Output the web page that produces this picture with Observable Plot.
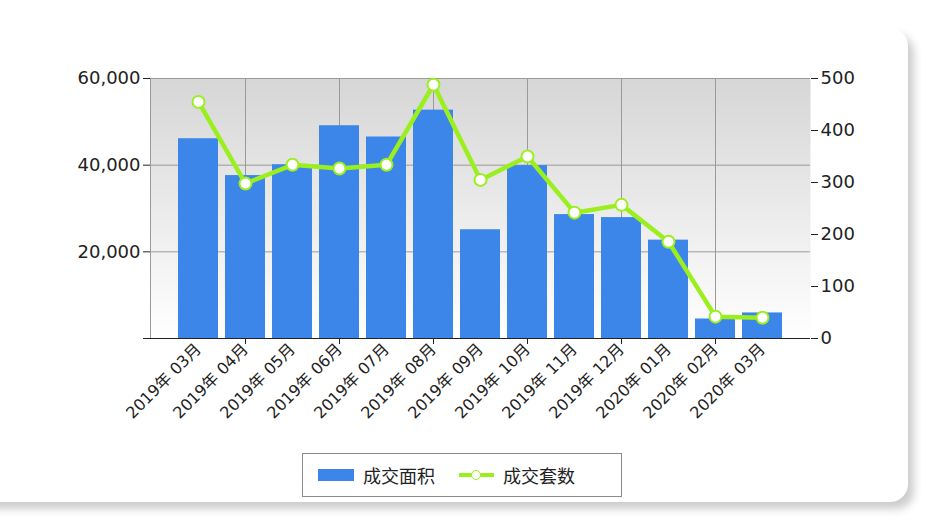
<!DOCTYPE html>
<html><head><meta charset="utf-8">
<script src="https://cdn.jsdelivr.net/npm/d3@7"></script>
<script src="https://cdn.jsdelivr.net/npm/@observablehq/plot@0.6"></script>
<style>
body{margin:0;background:#fff;width:928px;height:525px;overflow:hidden;position:relative;font-family:"DejaVu Sans","Noto Sans CJK SC",sans-serif;}
#card{position:absolute;left:-30px;top:28px;width:938px;height:474px;border-radius:18px;background:#fff;box-shadow:6px 7px 8px rgba(0,0,0,0.2);}
#chart{position:absolute;left:0;top:0;}
#legend{position:absolute;left:302px;top:453px;width:320px;height:44px;border:1px solid #8a8a8a;box-sizing:border-box;background:#fff;display:flex;align-items:center;font-size:18px;color:#222;font-family:"Noto Sans CJK SC",sans-serif;}
.sw{display:inline-block;width:36px;height:12px;background:#3b86e8;margin-left:15px;margin-right:9px;}
.ln{position:relative;display:inline-block;width:35px;height:12px;margin-left:24px;margin-right:9px;}
.ln:before{content:"";position:absolute;left:0;right:0;top:4px;height:4px;background:#9bef1f;}
.ln:after{content:"";position:absolute;left:12px;top:1px;width:8px;height:8px;border-radius:50%;background:#fff;border:1.5px solid #9bef1f;}
</style></head>
<body>
<div id="card"></div>
<div id="chart"></div>
<div id="legend"><span class="sw"></span><span>成交面积</span><span class="ln"></span><span>成交套数</span></div>
<script>
const months = ["2019年 03月","2019年 04月","2019年 05月","2019年 06月","2019年 07月","2019年 08月","2019年 09月","2019年 10月","2019年 11月","2019年 12月","2020年 01月","2020年 02月","2020年 03月"];
const areas = [46100, 37600, 40100, 49100, 46500, 52700, 25100, 39900, 28600, 27900, 22700, 4500, 5900];
const counts = [455, 298, 334, 327, 334, 488, 305, 350, 242, 257, 186, 42, 40];
const leftTicks = [0, 20000, 40000, 60000];
const rightTicks = [0, 100, 200, 300, 400, 500];
const gridMonths = months.filter((m, i) => i % 2 === 1);

const k = 60000 / 500;
const data = months.map((m, i) => ({month: m, area: areas[i], count: counts[i]}));
const green = "#9bef1f";

const defs = () => {
  const d = d3.create("svg:defs");
  const g = d.append("linearGradient").attr("id", "bggrad").attr("x1", 0).attr("y1", 0).attr("x2", 0).attr("y2", 1);
  g.append("stop").attr("offset", "0%").attr("stop-color", "#d6d6d6");
  g.append("stop").attr("offset", "100%").attr("stop-color", "#ffffff");
  return d.node();
};

const chart = Plot.plot({
  width: 928,
  height: 440,
  marginLeft: 150,
  marginRight: 118,
  marginTop: 78,
  marginBottom: 102,
  style: {fontFamily: '"DejaVu Sans","Noto Sans CJK SC",sans-serif', color: "#222", background: "transparent"},
  x: {domain: months, paddingInner: 0.155, paddingOuter: 0.55, label: null},
  y: {domain: [0, 60000], label: null},
  marks: [
    defs,
    Plot.frame({fill: "url(#bggrad)", stroke: null}),
    Plot.gridY({ticks: leftTicks.slice(1), stroke: "#9a9a9a", strokeOpacity: 1}),
    Plot.gridX({ticks: gridMonths, stroke: "#9a9a9a", strokeOpacity: 1}),
    Plot.barY(data, {x: "month", y: "area", fill: "#3b86e8"}),
    Plot.frame({anchor: "left", stroke: "#9a9a9a"}),
    Plot.ruleY([0], {stroke: "#222"}),
    Plot.lineY(data, {x: "month", y: d => d.count * k, stroke: green, strokeWidth: 4.5}),
    Plot.dot(data, {x: "month", y: d => d.count * k, r: 6, fill: "white", stroke: green, strokeWidth: 2}),
    Plot.axisY({anchor: "left", ticks: leftTicks, tickSize: 7, tickPadding: 3, fontSize: 18, label: null,
      tickFormat: d => d === 0 ? "" : d3.format(",")(d)}),
    Plot.axisY({anchor: "right", ticks: rightTicks.map(v => v * k), tickSize: 7, tickPadding: 3, fontSize: 18, label: null,
      tickFormat: d => String(Math.round(d / k))}),
    Plot.axisX({ticks: gridMonths, tickSize: 6, tickFormat: () => "", label: null}),
    Plot.axisX({tickSize: 0, tickRotate: -45, tickPadding: 8, fontSize: 16, label: null})
  ]
});
document.getElementById("chart").appendChild(chart);
</script>
</body></html>
